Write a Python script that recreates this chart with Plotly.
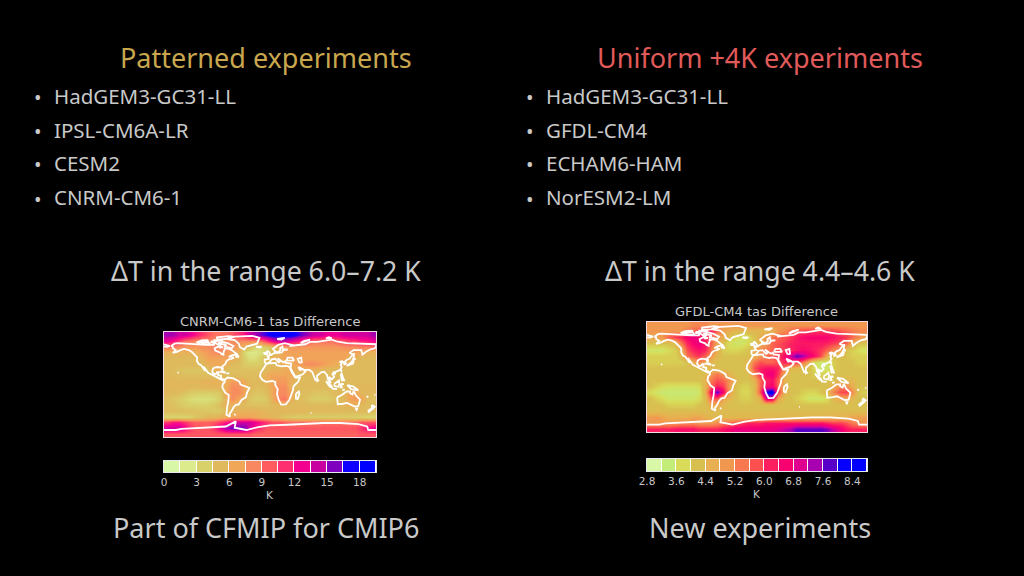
"""Two-column slide: patterned vs uniform +4K experiments, each with a tas difference map."""

import plotly.graph_objects as go

W, H = 1024, 576

LON = [-175 + 10 * i for i in range(36)]
LAT = [85 - 10 * i for i in range(18)]

# CNRM-CM6-1 tas difference (K), rows north to south
CNRM_TAS = [
    [15, 15, 14, 14, 13, 12, 11, 10, 9, 9, 9, 10, 11, 12, 14, 15, 16, 17, 18, 18, 18, 18, 17, 16, 15, 14, 14, 13, 13, 13, 14, 14, 14, 14, 14, 15],
    [13, 12, 11, 9, 8.5, 8, 8, 8, 8, 8, 8, 8, 8, 8, 8, 8, 9, 11, 13, 14, 14, 13, 12, 11, 10, 9, 9, 9, 9, 10, 10, 11, 11, 12, 12, 13],
    [9, 8.5, 8, 7.5, 7.5, 7.5, 8, 8, 8.5, 8.5, 8, 8, 7, 6, 5, 3.5, 3.5, 4, 5, 6, 7, 7.5, 7.5, 7.5, 7.5, 7.5, 7.5, 7.5, 7.5, 7.5, 8, 8, 8, 8.5, 8.5, 9],
    [6, 6, 6, 6, 6, 6, 7, 7.5, 8, 8, 7.5, 7, 6, 3.5, 2.5, 2.5, 3, 4, 5, 6, 7, 7, 7, 7, 7, 7, 7, 7, 7, 7, 7, 7, 7, 7, 6, 6],
    [5.2, 5.2, 5.2, 5.2, 5.2, 5.2, 6, 7, 7, 7, 7, 6.5, 5.5, 4, 3, 3, 4, 5, 6, 6.5, 7, 7, 7, 7, 7, 7, 7, 7, 7, 7, 7, 6, 6, 5.2, 5.2, 5.2],
    [5.2, 5.2, 5.2, 5.2, 5.2, 5.2, 5.2, 6, 6.5, 6.5, 6, 5, 5, 4.2, 4, 4, 4.2, 5, 5.2, 6, 6, 6.5, 7, 7.5, 8, 8, 7.5, 7, 6.5, 6, 6, 5.2, 5.2, 5.2, 5.2, 5.2],
    [5.2, 5, 4.8, 4.5, 4.5, 4.5, 4.5, 5, 6, 6, 5, 4.8, 4.8, 4.8, 4.8, 4.8, 5, 5.5, 6, 6, 6.5, 6.5, 6, 6, 6, 6, 5.5, 5.2, 5.2, 5.2, 5.2, 5.2, 5.2, 5.2, 5.2, 5.2],
    [5.2, 5.2, 5.2, 5, 5, 5, 5, 5, 5.2, 5.2, 5.2, 5.2, 5.2, 5, 5, 5, 5.5, 6.5, 7, 7, 7, 6.5, 5.5, 5.2, 5.2, 5.2, 5.2, 5.2, 5.2, 5.2, 5.2, 5.2, 5.2, 5.2, 5.2, 5.2],
    [5.5, 5.5, 5.5, 5.5, 5.5, 5.5, 5.8, 6, 6, 6, 6.5, 7.5, 7.5, 6.5, 5.5, 5.2, 5.2, 6, 7, 7.5, 7.5, 6, 5.2, 5.2, 5.2, 5.2, 5.2, 5.2, 5.2, 5.2, 5.2, 5.2, 5.2, 5.2, 5.2, 5.2],
    [5.5, 5.5, 5.5, 5.5, 5.2, 5.2, 5.5, 5.5, 5.5, 5.8, 6.5, 8, 8, 7, 5.5, 5, 5, 5.5, 7, 8, 8, 6, 5.2, 5.2, 5.2, 5.2, 5.2, 5.2, 5.2, 5.2, 5.2, 5.5, 5.5, 5.5, 5.5, 5.5],
    [5.2, 5.2, 5, 4.5, 4, 3.8, 3.8, 3.8, 4, 4.2, 7, 8, 8, 7, 5, 4.5, 4.5, 5, 7, 8, 8, 7, 5, 5, 5, 4.5, 4.5, 4.5, 5, 5.2, 5.2, 7, 7, 5.5, 5.2, 5.2],
    [4.8, 4.5, 4, 3.5, 3.2, 3, 3, 3, 3.2, 4, 6, 8, 7, 6, 4.5, 4, 4, 4.5, 6.5, 8.5, 9, 6, 5, 5, 4.5, 4, 4, 4, 4.5, 5, 5.5, 7, 7.5, 7, 5.2, 4.8],
    [5, 4.8, 4.2, 4, 3.8, 3.8, 3.8, 3.8, 4.2, 5, 6, 6, 5.2, 5, 4.8, 4.8, 4.8, 4.8, 5.2, 5.5, 5.5, 5.2, 5.2, 5.2, 5.2, 5.2, 5.2, 5.2, 5.2, 5.5, 5.5, 6, 6, 5.2, 5, 5],
    [5, 5, 5, 5, 4.8, 4.8, 4.5, 4.5, 4.2, 4.2, 5.2, 5.5, 6, 6, 6, 6, 5.8, 5.5, 5.5, 5.5, 5.5, 5.5, 5.5, 5.5, 5.2, 5.2, 5.2, 5.2, 5.2, 5.2, 5.2, 5.2, 5.2, 5.2, 5.2, 5],
    [3.5, 3.5, 3.5, 3.5, 3.8, 4.5, 5, 5.5, 5.5, 6, 6.5, 7, 7, 7, 7, 6.5, 6, 6, 5.5, 5, 4.5, 4.2, 4, 4, 4, 4, 4, 4, 4, 4, 4, 4, 3.8, 3.8, 3.5, 3.5],
    [11, 12, 12, 11, 10, 9.5, 9.5, 9.5, 10, 11, 12, 13, 14, 14, 14, 13, 12, 11, 10, 10, 9.5, 9, 9, 9, 9, 9, 9, 9, 9, 9, 9, 9, 9, 10, 10, 10],
    [14, 14, 14, 13, 11, 10, 10, 10, 11, 13, 15, 16, 16, 16, 14, 12, 11, 10, 10, 10, 10, 10, 10, 10, 10, 10, 10, 10, 10, 10, 10, 10, 10, 11, 12, 13],
    [10, 10, 10, 10, 10, 10, 10, 10, 10, 10, 10, 10, 10, 10, 10, 9.5, 9.5, 9.5, 9.5, 9.5, 9.5, 9.5, 9.5, 9.5, 9.5, 9.5, 9.5, 9.5, 9.5, 9.5, 9.5, 9.5, 9.5, 10, 10, 10],
]

# GFDL-CM4 tas difference (K), rows north to south
GFDL_TAS = [
    [5, 5, 5, 5, 5, 5, 5, 5.2, 5.2, 5.2, 5, 5, 5, 5, 5, 5, 5, 5, 5, 5, 5, 5, 5, 5, 5, 5, 5, 5, 5, 5, 5, 5, 5, 5, 5, 5],
    [5, 5, 5, 5, 5, 5, 5.4, 5.6, 5.8, 5.8, 6.3, 5.6, 4.8, 4.6, 4.4, 4.4, 4.4, 4.4, 4.4, 4.4, 4.6, 5, 5.2, 5.6, 5.8, 6, 6, 6, 6, 6, 6, 5.8, 5.6, 5.4, 5.2, 5.2],
    [4.8, 4.8, 5, 5.6, 6, 6.2, 6.6, 6.8, 6.6, 6.2, 5.6, 5, 4.6, 4.2, 3.8, 3.7, 3.8, 4.2, 4.6, 5, 5.4, 5.6, 5.8, 6, 6.3, 6.5, 6.6, 6.6, 6.6, 6.6, 6.4, 6.2, 6, 5.6, 5.2, 4.8],
    [4.2, 4.2, 4.2, 4.2, 4.4, 5.4, 6.2, 6.6, 6.8, 6.3, 5.6, 4.8, 4.2, 3.7, 3.6, 3.6, 3.8, 4.1, 4.6, 5, 5.6, 5.8, 6, 6.2, 6.3, 6.3, 6.3, 6.3, 6.3, 6.2, 6, 5.8, 5.6, 4.6, 4.2, 4.2],
    [3.6, 3.6, 3.6, 3.8, 4, 4.5, 5.8, 6.2, 6.4, 6.2, 5.4, 4.6, 4, 3.9, 3.9, 4, 4.2, 4.6, 5.2, 5.4, 5.6, 5.8, 6, 6.2, 6.4, 6.5, 6.4, 6.2, 6, 5.6, 5.2, 4.8, 4.2, 4, 3.8, 3.6],
    [4, 4, 4, 4, 4, 4.3, 5.4, 5.8, 6, 5.6, 5, 4.4, 4.2, 4.2, 4.2, 4.2, 4.2, 4.5, 5, 5.4, 5.6, 6, 6.5, 7.2, 7.8, 7.4, 6.8, 6.4, 5.8, 4.6, 4.2, 4.2, 4.2, 4, 4, 4],
    [4, 4, 4, 4, 4, 4, 4.2, 4.6, 5.2, 4.8, 4.4, 4.2, 4.2, 4.2, 4.2, 4.2, 4.5, 5.4, 5.8, 5.6, 5.6, 5.8, 6.2, 6.4, 6, 5.4, 4.6, 3.7, 3.5, 3.6, 4, 4.2, 4.2, 4.2, 4, 4],
    [4.2, 4.2, 4.2, 4.2, 4.2, 4.2, 4.2, 4.2, 4.3, 4.3, 4.3, 4.3, 4.2, 4.2, 4.2, 4.2, 4.5, 5.8, 6.2, 6.4, 6.4, 6.2, 5.2, 4.4, 4.4, 4.2, 4.2, 3.8, 3.5, 3.6, 4, 4.2, 4.2, 4.2, 4.2, 4.2],
    [4.2, 4.2, 4.2, 4.2, 4.2, 4.2, 4.2, 4.2, 4.2, 4.3, 5, 5.4, 5, 4.4, 4.2, 4.2, 4.2, 5.2, 6.2, 6.6, 6.8, 6, 4.5, 4.2, 4.2, 4.2, 4.2, 4, 4, 4, 4.2, 4.2, 4.2, 4.2, 4.2, 4.2],
    [4.2, 4.2, 4.2, 4.2, 4.2, 4.2, 4.2, 4.2, 4.2, 4.5, 5.4, 5.8, 5.6, 5, 4.4, 4.2, 4.2, 4.5, 5.6, 6.2, 6.4, 5.6, 4.4, 4.2, 4.2, 4.2, 4.2, 4.2, 4.2, 4.2, 4.2, 4.4, 4.4, 4.4, 4.2, 4.2],
    [4.2, 4, 3.8, 3.7, 3.7, 3.7, 3.7, 3.7, 3.8, 4.5, 5.6, 6.2, 6, 4.8, 4.2, 4, 4, 4.3, 5.6, 6.4, 6.6, 5.6, 4.5, 4.2, 4.2, 4.2, 4.2, 4.2, 4.2, 4.2, 4.6, 5.2, 5.2, 4.6, 4.2, 4.2],
    [3.8, 3.6, 3.5, 3.5, 3.5, 3.5, 3.5, 3.5, 3.6, 4.6, 6.6, 7.8, 6.6, 4.8, 4.2, 3.9, 3.9, 4.3, 5.8, 8.2, 8.6, 6, 4.5, 4.2, 4.2, 4, 3.9, 3.9, 4.2, 4.4, 5.2, 5.8, 6, 5.2, 4.2, 4],
    [4.2, 4, 3.8, 3.6, 3.6, 3.6, 3.6, 3.6, 3.8, 4.3, 5.8, 5.8, 4.8, 4.4, 4.2, 4, 4, 4.2, 4.6, 7, 7, 4.8, 4.2, 4.2, 4, 3.8, 3.6, 3.6, 3.6, 3.8, 4.4, 4.8, 4.8, 4.4, 4.2, 4.2],
    [4.2, 4.2, 4.2, 4, 4, 4, 4, 4, 4.2, 4.2, 4.7, 4.7, 4.4, 4.2, 4.2, 4.2, 4.2, 4.2, 4.2, 4.2, 4.2, 4.2, 4.2, 4.2, 4.2, 4.2, 4.2, 4.2, 4.2, 4.2, 4.2, 4.2, 4.2, 4.2, 4.2, 4.2],
    [4.3, 4.3, 4.3, 4.3, 4.3, 4.3, 4.3, 4.3, 4.3, 4.3, 4.3, 4.3, 4.3, 4.3, 4.3, 4.3, 4.3, 4.3, 4.3, 4.3, 4.3, 4.3, 4.3, 4.3, 4.3, 4.3, 4.3, 4.3, 4.3, 4.3, 4.3, 4.3, 4.3, 4.3, 4.3, 4.3],
    [4.9, 5, 4.8, 4.6, 4.6, 4.6, 4.6, 4.8, 4.8, 4.6, 4.4, 4.4, 4.4, 4.4, 4.4, 4.4, 4.4, 4.4, 4.4, 4.4, 4.4, 4.4, 4.4, 4.4, 4.4, 4.4, 4.4, 4.4, 4.4, 4.5, 4.6, 4.6, 4.6, 4.8, 4.8, 4.9],
    [5, 5, 5, 5, 5, 5.2, 5.2, 5.2, 5, 5, 5, 5.2, 5.4, 5.6, 5.8, 6, 6.2, 6.2, 6.2, 6.4, 6.4, 6.4, 6.4, 6.4, 6.4, 6.4, 6.4, 6.4, 6.4, 6.2, 6, 6, 5.8, 5.4, 5.2, 5],
    [6.2, 6.2, 6.2, 6.2, 6.4, 6.4, 6.4, 6.4, 6.2, 6.2, 6.2, 6.2, 6.4, 6.6, 6.8, 6.8, 6.8, 6.8, 6.8, 6.8, 6.8, 7, 7.2, 7.4, 7.8, 7.8, 7.8, 7.8, 7.8, 7.6, 7.2, 6.8, 6.4, 6.2, 6.2, 6.2],
]

# colorbar segments
CNRM_COLORS = ["#d8f8a8", "#dcec8c", "#d8d068", "#dfb95c", "#f0a858", "#f88860", "#ff5c60",
               "#ff3070", "#f40090", "#c800a0", "#8000c0", "#1000ff", "#0000ff"]
GFDL_COLORS = ["#d8f8a8", "#c4ec78", "#d8dc58", "#d8c050", "#e8b050", "#f09850", "#f87850", "#fc5050",
               "#fc2060", "#f80070", "#e00090", "#a800b0", "#5800c8", "#0800ff", "#0000ff"]
CNRM_TICKS = [0, 3, 6, 9, 12, 15, 18]
GFDL_TICKS = [2.8, 3.6, 4.4, 5.2, 6.0, 6.8, 7.6, 8.4]

# coastlines, (lon, lat)
NORTH_AMERICA = [(-168, 66), (-162, 70), (-156, 71), (-141, 70), (-128, 70), (-115, 68), (-108, 68), (-95, 68), (-94, 72), (-88, 68), (-82, 69), (-86, 66), (-94, 62), (-93, 58), (-85, 55), (-82, 52), (-79, 51), (-79, 55), (-77, 60), (-78, 62), (-70, 61), (-65, 59), (-60, 55), (-56, 52), (-65, 50), (-70, 47), (-65, 49), (-64, 46), (-61, 46), (-66, 44), (-70, 43), (-74, 40), (-76, 37), (-76, 35), (-81, 31), (-80, 27), (-81, 25), (-83, 29), (-89, 30), (-94, 29), (-97, 27), (-98, 22), (-95, 18), (-91, 18.5), (-90, 21), (-87, 21), (-88, 16), (-83, 15), (-83, 10), (-79, 9), (-77, 8), (-80, 7), (-85, 10), (-92, 14), (-97, 16), (-105, 20), (-109, 25), (-113, 31), (-112, 28), (-110, 23), (-115, 29), (-117, 33), (-121, 35), (-124, 40), (-124, 47), (-128, 51), (-133, 56), (-138, 59), (-146, 61), (-152, 59), (-158, 56), (-165, 54), (-160, 59), (-165, 62), (-165, 65), (-168, 66)]
BAFFIN = [(-80, 73), (-72, 71), (-62, 66), (-65, 62), (-72, 64), (-78, 65), (-74, 68), (-88, 71), (-80, 73)]
VICTORIA = [(-117, 72), (-105, 73), (-102, 69), (-115, 69), (-117, 72)]
BANKS = [(-125, 72), (-118, 75), (-115, 73), (-120, 71), (-125, 72)]
MELVILLE = [(-117, 75.5), (-106, 76), (-105, 74.5), (-115, 74.5), (-117, 75.5)]
DEVON = [(-96, 76), (-80, 75.5), (-90, 74.5), (-96, 76)]
SOMERSET = [(-100, 74), (-92, 74), (-94, 71), (-100, 72), (-100, 74)]
SOUTHAMPTON = [(-87, 65), (-80, 64), (-85, 63), (-87, 65)]
ELLESMERE = [(-90, 77), (-75, 78), (-62, 82), (-70, 83), (-90, 81), (-90, 77)]
NEWFOUNDLAND = [(-59, 48), (-53, 47), (-56, 51.5), (-59, 48)]
GREENLAND = [(-73, 78), (-60, 76), (-53, 70), (-51, 64), (-44, 60), (-40, 65), (-22, 70), (-20, 76), (-18, 80), (-30, 83.5), (-60, 82), (-73, 78)]
SOUTH_AMERICA = [(-77, 8), (-72, 12), (-62, 10.5), (-52, 5), (-50, 0), (-44, -2.5), (-35, -6), (-39, -14), (-41, -22), (-48, -26), (-53, -34), (-58, -35), (-62, -39), (-65, -45), (-69, -51), (-68, -55), (-74, -52), (-73, -40), (-71, -30), (-70, -18), (-76, -14), (-81, -5), (-80, 1), (-77, 4), (-77, 8)]
AFRICA = [(-6, 36), (10, 37), (11, 33), (20, 31), (25, 32), (32, 31), (34, 28), (37, 21), (43, 12), (51, 12), (48, 5), (40, -3), (39, -10), (35, -20), (33, -26), (27, -34), (19, -34.5), (15, -27), (12, -17), (13, -8), (9, -1), (9, 4), (4, 6), (-7, 4.5), (-13, 8), (-17, 14), (-16, 20), (-10, 29), (-6, 36)]
EURASIA = [(-9, 37), (-9, 43), (-1, 44), (-4, 48), (2, 51), (8, 54), (8, 57), (11, 54), (20, 55), (23, 59), (30, 60), (22, 60), (21, 65), (17, 62), (18, 59), (13, 55), (8, 58), (5, 61), (14, 68), (25, 71), (40, 67), (33, 66), (45, 68), (60, 69), (68, 73), (80, 73), (105, 77), (113, 74), (130, 71), (160, 70), (180, 69), (180, 65), (178, 62), (170, 60), (163, 56), (157, 51), (156, 57), (155, 59), (142, 59), (135, 54), (141, 52), (135, 44), (130, 42), (127, 39), (129, 36), (126, 34), (126, 38), (122, 40), (118, 39), (122, 37), (120, 33), (122, 30), (119, 25), (113, 22), (108, 21), (106, 18), (109, 13), (105, 9), (100, 13), (103, 2), (100, 6), (98, 10), (97, 16), (92, 22), (87, 21), (80, 15), (80, 10), (77, 8), (73, 18), (72, 21), (67, 25), (57, 25.5), (52, 28), (48, 30), (51, 25), (56, 26), (60, 22), (55, 17), (43, 13), (39, 21), (35, 28), (36, 36), (27, 37), (26, 40), (23, 38), (20, 40), (13, 45), (18, 40), (15, 38), (9, 44), (3, 43), (0, 39), (-2, 37), (-5, 36), (-9, 37)]
CHUKCHI = [(-180, 69), (-172, 67), (-170, 66), (-175, 64.5), (-180, 65)]
BLACK_SEA = [(28, 41), (41, 41), (38, 46), (30, 46), (28, 41)]
CASPIAN = [(50, 37), (54, 38), (53, 46), (47, 44), (50, 37)]
BRITAIN = [(-5, 50), (1, 51), (-2, 56), (-5, 58), (-5, 54), (-5, 50)]
IRELAND = [(-10, 52), (-6, 52), (-6, 55), (-10, 54), (-10, 52)]
ICELAND = [(-24, 65), (-14, 65), (-18, 63.5), (-24, 65)]
SVALBARD = [(12, 78), (25, 80), (20, 77), (12, 78)]
NOVAYA_ZEMLYA = [(52, 71), (68, 77), (58, 75), (52, 71)]
SEVERNAYA = [(95, 79), (105, 79), (100, 81), (95, 79)]
MADAGASCAR = [(44, -16), (49, -12), (50, -16), (47, -25), (44, -24), (44, -16)]
HONSHU = [(130, 32), (136, 34), (141, 36), (142, 40), (140, 41), (137, 37), (130, 33), (130, 32)]
HOKKAIDO = [(140, 42), (145, 43.5), (142, 45.5), (140, 42)]
SAKHALIN = [(142, 46), (143, 54), (142, 50), (142, 46)]
TAIWAN = [(120, 23), (122, 25), (121, 22), (120, 23)]
HAINAN = [(108.5, 19), (111, 20), (110, 18), (108.5, 19)]
PHILIPPINES = [(120, 18), (122, 18), (124, 12), (126, 7), (122, 7), (120, 14), (120, 18)]
SUMATRA = [(95, 5.5), (104, -2), (106, -6), (101, -3), (95, 5.5)]
JAVA = [(105, -7), (114, -8), (106, -6), (105, -7)]
BORNEO = [(109, 1), (117, 7), (118, 1), (116, -4), (110, -3), (109, 1)]
SULAWESI = [(120, 1), (125, 1), (121, -1), (122, -5), (120, -5), (120, 1)]
TIMOR = [(123, -10), (127, -8.5), (124, -9), (123, -10)]
NEW_GUINEA = [(131, -1), (141, -3), (150, -10), (143, -9), (138, -8), (131, -1)]
AUSTRALIA = [(114, -22), (122, -18), (130, -12), (136, -12), (136, -15), (140, -17), (142, -11), (146, -19), (153, -26), (150, -37), (144, -38), (138, -35), (131, -31.5), (124, -33), (115, -34), (114, -22)]
TASMANIA = [(145, -41), (148, -41), (147, -43.5), (145, -41)]
NZ_NORTH = [(173, -35), (178, -38), (175, -41), (173, -39), (173, -35)]
NZ_SOUTH = [(172, -41), (174, -42), (168, -47), (167, -45), (172, -41)]
NEW_CALEDONIA = [(164, -20), (167, -22), (165, -21.5), (164, -20)]
FIJI = [(177, -17.5), (179, -18), (178, -19), (177, -17.5)]
HAWAII = [(-157, 21), (-155, 20), (-155.5, 19), (-157, 21)]
CUBA = [(-85, 22), (-75, 20), (-80, 23), (-85, 22)]
HISPANIOLA = [(-74, 19), (-69, 19), (-71, 18), (-74, 19)]
SRI_LANKA = [(80, 9.5), (82, 7), (80, 6), (80, 9.5)]
FALKLAND = [(-61, -51.5), (-58, -51.5), (-59, -52.5), (-61, -51.5)]
KERGUELEN = [(69, -49), (70.5, -49), (70, -50), (69, -49)]
ANTARCTICA = [(-180, -78), (-160, -78), (-150, -76), (-120, -74), (-100, -73), (-75, -72), (-60, -64), (-58, -63), (-60, -74), (-40, -78), (-20, -73), (0, -70), (30, -69), (60, -67), (90, -66), (120, -66), (150, -68), (165, -72), (167, -78), (180, -78)]

COASTS = [NORTH_AMERICA, BAFFIN, VICTORIA, BANKS, MELVILLE, DEVON, SOMERSET, SOUTHAMPTON, ELLESMERE, NEWFOUNDLAND, GREENLAND,
          SOUTH_AMERICA, AFRICA, EURASIA, CHUKCHI, BLACK_SEA, CASPIAN, BRITAIN, IRELAND, ICELAND, SVALBARD, NOVAYA_ZEMLYA,
          SEVERNAYA, MADAGASCAR, HONSHU, HOKKAIDO, SAKHALIN, TAIWAN, HAINAN, PHILIPPINES, SUMATRA, JAVA, BORNEO, SULAWESI,
          TIMOR, NEW_GUINEA, AUSTRALIA, TASMANIA, NZ_NORTH, NZ_SOUTH, NEW_CALEDONIA, FIJI, HAWAII, CUBA, HISPANIOLA,
          SRI_LANKA, FALKLAND, KERGUELEN, ANTARCTICA]

LEFT_MODELS = ["HadGEM3-GC31-LL", "IPSL-CM6A-LR", "CESM2", "CNRM-CM6-1"]
RIGHT_MODELS = ["HadGEM3-GC31-LL", "GFDL-CM4", "ECHAM6-HAM", "NorESM2-LM"]

SANS = "Noto Sans"
MPL = "DejaVu Sans"
GREY = "#c9c9c9"


def px_x(x):
    return x / W


def px_y(y):
    return 1 - y / H


def label(text, x, y, size, color=GREY, font=SANS, anchor="center"):
    return dict(text=text, x=px_x(x), y=px_y(y), xref="paper", yref="paper", xanchor=anchor, yanchor="middle",
                showarrow=False, font=dict(family=font, size=size, color=color))


def segment_scale(colors):
    n = len(colors)
    scale = [[0, colors[0]]]
    for i, c in enumerate(colors):
        scale.append([(i + 0.5) / n, c])
    scale.append([1, colors[-1]])
    return scale


def add_panel(fig, num, tas, colors, vmin, step, ticks, box, bar):
    """Map with coastlines plus a segmented colorbar underneath."""
    vmax = vmin + step * len(colors)
    map_x, map_y = "x%d" % (2 * num - 1), "y%d" % (2 * num - 1)
    bar_x, bar_y = "x%d" % (2 * num), "y%d" % (2 * num)

    fig.add_trace(go.Heatmap(x=LON, y=LAT[::-1], z=tas[::-1], zmin=vmin, zmax=vmax, zsmooth="best",
                             colorscale=segment_scale(colors), showscale=False, xaxis=map_x, yaxis=map_y))
    xs, ys = [], []
    for coast in COASTS:
        xs += [p[0] for p in coast] + [None]
        ys += [p[1] for p in coast] + [None]
    fig.add_trace(go.Scatter(x=xs, y=ys, mode="lines", line=dict(color="white", width=1.8), xaxis=map_x, yaxis=map_y,
                             showlegend=False, hoverinfo="skip", connectgaps=False))

    mids = [vmin + step * (i + 0.5) for i in range(len(colors))]
    fig.add_trace(go.Heatmap(x=mids, y=[0], z=[mids], zmin=vmin, zmax=vmax, xgap=1,
                             colorscale=segment_scale(colors), showscale=False, xaxis=bar_x, yaxis=bar_y))

    left, right, top, bottom = box
    fig.update_layout({
        "xaxis%d" % (2 * num - 1): dict(domain=[px_x(left), px_x(right)], range=[-180, 180], showticklabels=False,
                                        ticks="", showgrid=False, zeroline=False, mirror=True, showline=True,
                                        anchor=map_y, linecolor="#f4dce8", linewidth=1),
        "yaxis%d" % (2 * num - 1): dict(domain=[px_y(bottom), px_y(top)], range=[-90, 90], showticklabels=False,
                                        ticks="", showgrid=False, zeroline=False, mirror=True, showline=True,
                                        anchor=map_x, linecolor="#f4dce8", linewidth=1),
        "xaxis%d" % (2 * num): dict(domain=[px_x(left), px_x(right)], range=[vmin, vmax], tickvals=ticks,
                                    ticktext=["%.1f" % t if vmin == 2.8 else "%d" % t for t in ticks],
                                    ticks="", showgrid=False, zeroline=False,
                                    anchor=bar_y, tickfont=dict(family=MPL, size=10.5, color=GREY), mirror=True,
                                    showline=True, linecolor="#e8e8f0", linewidth=1),
        "yaxis%d" % (2 * num): dict(domain=[px_y(bar[1]), px_y(bar[0])], showticklabels=False, ticks="",
                                    showgrid=False, zeroline=False, anchor=bar_x, mirror=True, showline=True,
                                    linecolor="#e8e8f0", linewidth=1),
    })


fig = go.Figure()
add_panel(fig, 1, CNRM_TAS, CNRM_COLORS, 0, 1.5, CNRM_TICKS, (164, 376, 332, 437), (461, 472))
add_panel(fig, 2, GFDL_TAS, GFDL_COLORS, 2.8, 0.4, GFDL_TICKS, (647, 867, 322, 432), (459, 471))

notes = [
    label("Patterned experiments", 266, 58, 27, "#c9a74f"),
    label("Uniform +4K experiments", 759.5, 58, 27, "#e05a5a"),
    label("ΔT in the range 6.0–7.2 K", 266, 270, 26.7),
    label("ΔT in the range 4.4–4.6 K", 759.5, 270, 26.7),
    label("Part of CFMIP for CMIP6", 266, 527, 27),
    label("New experiments", 759.5, 527, 27),
    label("CNRM-CM6-1 tas Difference", 269.5, 321, 13, font=MPL),
    label("GFDL-CM4 tas Difference", 756.5, 311, 13, font=MPL),
    label("K", 270, 495, 10.5, font=MPL),
    label("K", 757, 494, 10.5, font=MPL),
]
ROWS_Y = [97, 131, 164, 198]
for name, y in zip(LEFT_MODELS, ROWS_Y):
    notes.append(label("•", 32, y + 1, 20, anchor="left"))
    notes.append(label(name, 52, y - 1, 20.5, anchor="left"))
for name, y in zip(RIGHT_MODELS, ROWS_Y):
    notes.append(label("•", 524, y + 1, 20, anchor="left"))
    notes.append(label(name, 544, y - 1, 20.5, anchor="left"))

fig.update_layout(width=W, height=H, margin=dict(l=0, r=0, t=0, b=0, autoexpand=False), paper_bgcolor="#000",
                  plot_bgcolor="#fff", showlegend=False, annotations=notes)
fig.write_html("out.html", config={"displayModeBar": False},
               post_script="document.body.style.margin='0';document.body.style.background='#000';")
